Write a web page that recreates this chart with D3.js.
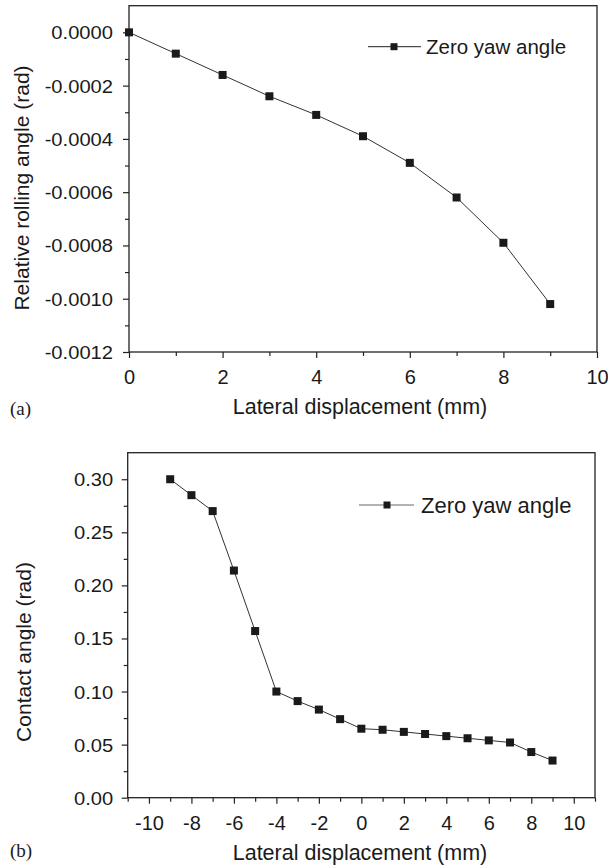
<!DOCTYPE html>
<html>
<head>
<meta charset="utf-8">
<script src="https://cdn.jsdelivr.net/npm/d3@7"></script>
<style>
  body { margin: 0; background: #fff; }
  svg text { font-family: "Liberation Sans", Arial, Helvetica, sans-serif; fill: #1a1a1a; }
</style>
</head>
<body>
<svg id="chart" width="608" height="868"></svg>
<script>
// panel (a) data
var dispA = [0, 1, 2, 3, 4, 5, 6, 7, 8, 9];
var rollA = [0, -0.00008, -0.00016, -0.00024, -0.00031, -0.00039, -0.00049, -0.00062, -0.00079, -0.00102];
var xTicksA = [0, 2, 4, 6, 8, 10];
var yTicksA = [0, -0.0002, -0.0004, -0.0006, -0.0008, -0.0010, -0.0012];

// panel (b) data
var dispB = [-9, -8, -7, -6, -5, -4, -3, -2, -1, 0, 1, 2, 3, 4, 5, 6, 7, 8, 9];
var contactB = [0.300, 0.285, 0.270, 0.214, 0.157, 0.100, 0.091, 0.083, 0.074, 0.065,
                0.064, 0.062, 0.060, 0.058, 0.056, 0.054, 0.052, 0.043, 0.035];
var xTicksB = [-10, -8, -6, -4, -2, 0, 2, 4, 6, 8, 10];
var yTicksB = [0, 0.05, 0.10, 0.15, 0.20, 0.25, 0.30];

var seriesName = "Zero yaw angle";
var xTitle = "Lateral displacement (mm)";

var svg = d3.select("#chart");

// hyphen instead of unicode minus, like the original
function fmt(digits) {
  return function(d) { return d.toFixed(digits); };
}

function drawPanel(cfg) {
  var x = d3.scaleLinear().domain(cfg.xDomain).range([cfg.left, cfg.right]);
  var y = d3.scaleLinear().domain(cfg.yDomain).range([cfg.bottom, cfg.top]);
  var g = svg.append("g");

  // minor ticks
  g.append("g")
    .attr("transform", "translate(0," + cfg.bottom + ")")
    .call(d3.axisBottom(x).tickValues(cfg.xMinor).tickSize(4).tickSizeOuter(0).tickFormat(""))
    .call(function(a) { a.select(".domain").remove(); });
  g.append("g")
    .attr("transform", "translate(" + cfg.left + ",0)")
    .call(d3.axisLeft(y).tickValues(cfg.yMinor).tickSize(4).tickSizeOuter(0).tickFormat(""))
    .call(function(a) { a.select(".domain").remove(); });

  // major x axis
  var xa = g.append("g")
    .attr("transform", "translate(0," + cfg.bottom + ")")
    .call(d3.axisBottom(x).tickValues(cfg.xTicks).tickSize(6).tickSizeOuter(0).tickFormat(fmt(0)));
  xa.select(".domain").remove();
  xa.selectAll("text")
    .attr("y", 32).attr("dy", null)
    .attr("font-size", 20)
    .attr("fill", "#1a1a1a");

  // major y axis
  var ya = g.append("g")
    .attr("transform", "translate(" + cfg.left + ",0)")
    .call(d3.axisLeft(y).tickValues(cfg.yTicks).tickSize(6).tickSizeOuter(0).tickFormat(fmt(cfg.yDigits)));
  ya.select(".domain").remove();
  var sx = 1.12;
  ya.selectAll("text")
    .attr("x", -cfg.yGap / sx)
    .attr("dy", "0.36em")
    .attr("font-size", 18)
    .attr("fill", "#1a1a1a")
    .attr("transform", "scale(" + sx + ",1)");

  g.selectAll(".tick line").attr("stroke", "#222").attr("stroke-width", 1.2);

  // frame
  g.append("rect")
    .attr("x", cfg.left).attr("y", cfg.top)
    .attr("width", cfg.right - cfg.left).attr("height", cfg.bottom - cfg.top)
    .attr("fill", "none").attr("stroke", "#222").attr("stroke-width", 1.3);

  // series
  var line = d3.line().x(function(d) { return x(d[0]); }).y(function(d) { return y(d[1]); });
  var pts = d3.zip(cfg.xs, cfg.ys);
  g.append("path").datum(pts)
    .attr("d", line)
    .attr("fill", "none").attr("stroke", "#333").attr("stroke-width", 1);
  g.selectAll(".pt").data(pts).enter().append("rect")
    .attr("class", "pt")
    .attr("x", function(d) { return x(d[0]) - 4; })
    .attr("y", function(d) { return y(d[1]) - 4; })
    .attr("width", 8).attr("height", 8)
    .attr("fill", "#1a1a1a");

  // legend
  var L = cfg.legend;
  g.append("line")
    .attr("x1", L.x1).attr("x2", L.x2).attr("y1", L.y).attr("y2", L.y)
    .attr("stroke", L.color).attr("stroke-width", 1);
  g.append("rect")
    .attr("x", L.mx - 3.5).attr("y", L.y - 3.5).attr("width", 7).attr("height", 7)
    .attr("fill", "#1a1a1a");
  g.append("text")
    .attr("x", L.tx).attr("y", L.y + L.size * 0.36)
    .attr("font-size", L.size)
    .text(seriesName);

  // axis titles
  g.append("text")
    .attr("x", 360).attr("y", cfg.xTitleY)
    .attr("text-anchor", "middle")
    .attr("font-size", 21.5)
    .text(xTitle);
  g.append("text")
    .attr("transform", "translate(" + cfg.yTitleX + "," + cfg.yTitleY + ") rotate(-90)")
    .attr("text-anchor", "middle")
    .attr("font-size", 21)
    .text(cfg.yTitle);

  // panel letter
  g.append("text")
    .attr("x", 10).attr("y", cfg.letterY)
    .attr("font-size", 19)
    .style("font-family", "'Liberation Serif', 'Times New Roman', serif")
    .text(cfg.letter);
}

drawPanel({
  xs: dispA, ys: rollA,
  xDomain: [0, 10], yDomain: [-0.0012, 0.0001],
  left: 129, right: 597, top: 5.7, bottom: 352,
  xTicks: xTicksA, xMinor: [1, 3, 5, 7, 9],
  yTicks: yTicksA, yMinor: [-0.0001, -0.0003, -0.0005, -0.0007, -0.0009, -0.0011],
  yDigits: 4, yGap: 16,
  legend: { x1: 368, x2: 421, mx: 394, tx: 426, y: 46.7, size: 20.5, color: "#222" },
  xTitleY: 414, yTitleX: 29, yTitleY: 188,
  yTitle: "Relative rolling angle (rad)",
  letter: "(a)", letterY: 415
});

drawPanel({
  xs: dispB, ys: contactB,
  xDomain: [-11, 11], yDomain: [0, 0.325],
  left: 127.7, right: 595, top: 452.7, bottom: 797.7,
  xTicks: xTicksB, xMinor: [-11, -9, -7, -5, -3, -1, 1, 3, 5, 7, 9, 11],
  yTicks: yTicksB, yMinor: [0.025, 0.075, 0.125, 0.175, 0.225, 0.275],
  yDigits: 2, yGap: 14.5,
  legend: { x1: 359, x2: 414, mx: 387, tx: 421, y: 505, size: 22, color: "#666" },
  xTitleY: 860, yTitleX: 31, yTitleY: 652,
  yTitle: "Contact angle (rad)",
  letter: "(b)", letterY: 857
});
</script>
</body>
</html>
